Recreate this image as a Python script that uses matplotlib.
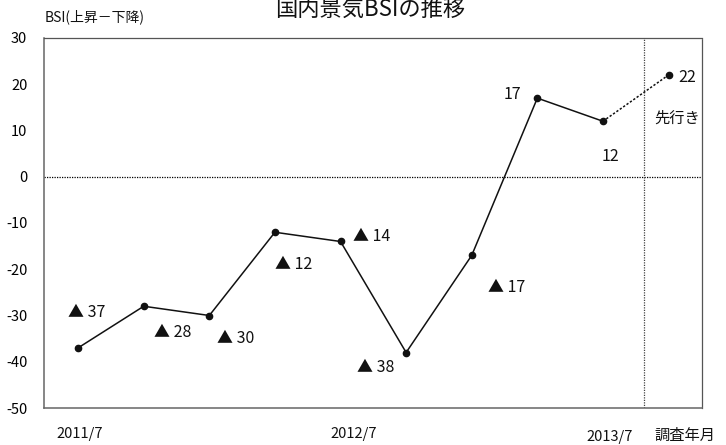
import matplotlib
matplotlib.use("Agg")
import matplotlib.pyplot as plt
from matplotlib.transforms import blended_transform_factory

plt.rcParams['font.family'] = ['Noto Sans CJK JP', 'DejaVu Sans']

# ---- data ----
periods = ['2011/7', '2011/10', '2012/1', '2012/4', '2012/7',
           '2012/10', '2013/1', '2013/4', '2013/7', '先行き']
bsi = [-37, -28, -30, -12, -14, -38, -17, 17, 12, 22]
xlabel_text = ['2011/7', '2012/7', '2013/7']
yticks = [30, 20, 10, 0, -10, -20, -30, -40, -50]

# label offsets in pixels (style/position only)
label_offsets = [(-10, 35), (10, -26), (8, -23), (0, -32), (12, 5),
                 (-49, -15), (16, -32), (-16, 4), (-1, -35), (10, -3)]
label_ha = ['left', 'left', 'left', 'left', 'left',
            'left', 'left', 'right', 'left', 'left']

fig = plt.figure(figsize=(7.26, 4.45), dpi=100)
ax = fig.add_axes([44/726, 1-408/445, (702-44)/726, (408-38)/445])

xs = list(range(len(bsi)))
n_actual = len(bsi) - 1
ax.plot(xs[:n_actual], bsi[:n_actual], color='#111111', lw=1.1,
        marker='o', ms=4.5, zorder=3)
ax.plot(xs[n_actual-1:], bsi[n_actual-1:], color='#111111', lw=1.1,
        ls=(0, (1.5, 1.2)), zorder=3)
ax.plot(xs[-1], bsi[-1], 'o', color='#111111', ms=4.5, zorder=3)

ax.set_xlim(-0.52, 9.51)
ax.set_ylim(-50, 30)

ax.axhline(0, color='black', lw=0.9, ls=(0, (1, 1)), zorder=1)
ax.axvline(8.63, color='#444444', lw=0.9, ls=(0, (1, 1)), zorder=1)

for s in ['top', 'right']:
    ax.spines[s].set_linestyle((0, (1, 1)))
    ax.spines[s].set_color('#555555')
    ax.spines[s].set_linewidth(0.9)
for s in ['left', 'bottom']:
    ax.spines[s].set_color('#666666')
    ax.spines[s].set_linewidth(1.1)

ax.set_xticks([])
ax.set_yticks(yticks)
ax.set_yticklabels([str(v) for v in yticks], fontsize=10.5)
ax.tick_params(axis='y', length=0, pad=12)

# value labels
for i, v in enumerate(bsi):
    txt = f'{v}' if v >= 0 else f'▲ {abs(v)}'
    ax.annotate(txt, (xs[i], v), xytext=label_offsets[i],
                textcoords='offset pixels', ha=label_ha[i], va='center',
                fontsize=11.5, color='#111111')

ax.annotate(periods[-1], (xs[-1], bsi[-1]), xytext=(9, -43),
            textcoords='offset pixels', ha='center', va='center',
            fontsize=11, color='#111111')

# x labels
trans = blended_transform_factory(ax.transData, fig.transFigure)
xlab_pos = [0.03, 4.2, 8.1]
xlab_y = [1-434/445, 1-434/445, 1-437/445]
for t, xp, yp in zip(xlabel_text, xlab_pos, xlab_y):
    fig.text(xp, yp, t, transform=trans, ha='center', va='center',
             fontsize=10.5, color='#111111')
fig.text(685/726, 1-435/445, '調査年月', ha='center', va='center',
         fontsize=11, color='#111111')

# titles
fig.text(370/726, 1-10/445, '国内景気BSIの推移', ha='center', va='center',
         fontsize=16, color='#111111')
fig.text(45/726, 1-17/445, 'BSI(上昇－下降)', ha='left', va='center',
         fontsize=10, color='#111111')

fig.savefig('out.png', dpi=100)
